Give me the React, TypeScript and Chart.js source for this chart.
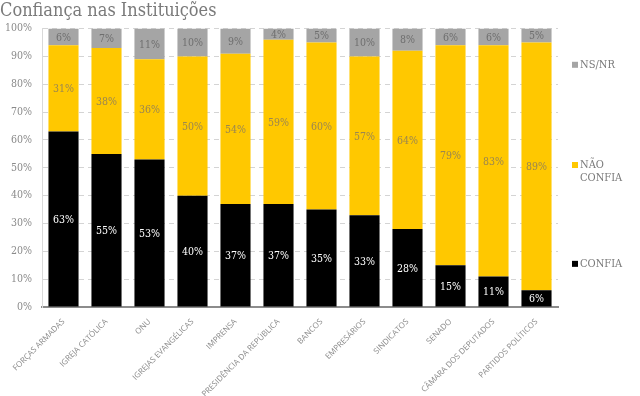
import React, { useEffect, useRef } from "react";
import { Chart, registerables } from "chart.js";

Chart.register(...registerables);

const categories = [
  "FORÇAS ARMADAS",
  "IGREJA CATÓLICA",
  "ONU",
  "IGREJAS EVANGÉLICAS",
  "IMPRENSA",
  "PRESIDÊNCIA DA REPÚBLICA",
  "BANCOS",
  "EMPRESÁRIOS",
  "SINDICATOS",
  "SENADO",
  "CÂMARA DOS DEPUTADOS",
  "PARTIDOS POLÍTICOS",
];
const confia = [63, 55, 53, 40, 37, 37, 35, 33, 28, 15, 11, 6];
const naoConfia = [31, 38, 36, 50, 54, 59, 60, 57, 64, 79, 83, 89];
const nsnr = [6, 7, 11, 10, 9, 4, 5, 10, 8, 6, 6, 5];
const yTicks = [0, 10, 20, 30, 40, 50, 60, 70, 80, 90, 100];

const TITLE_FONT = "'DejaVu Serif Condensed', 'DejaVu Serif', serif";

const labelColors = ["#ffffff", "#9a8650", "#6e6e6e"];

const dataLabelPlugin = {
  id: "dataLabels",
  afterDatasetsDraw(chart: any) {
    const ctx = chart.ctx;
    ctx.save();
    ctx.font = `10.5px ${TITLE_FONT}`;
    ctx.textAlign = "center";
    ctx.textBaseline = "middle";
    chart.data.datasets.forEach((ds: any, di: number) => {
      const meta = chart.getDatasetMeta(di);
      meta.data.forEach((el: any, i: number) => {
        const p = el.getProps(["x", "y", "base"], true);
        ctx.fillStyle = labelColors[di];
        ctx.fillText(ds.data[i] + "%", p.x, (p.y + p.base) / 2 + 1);
      });
    });
    ctx.restore();
  },
};

const legendPlugin = {
  id: "sideLegend",
  afterDraw(chart: any) {
    const ctx = chart.ctx;
    const area = chart.chartArea;
    const h = area.bottom - area.top;
    const x = area.right + 14;
    const items = [
      { lines: ["NS/NR"], color: "#a5a5a5", frac: 0.13 },
      { lines: ["NÃO", "CONFIA"], color: "#ffc800", frac: 0.49 },
      { lines: ["CONFIA"], color: "#000000", frac: 0.845 },
    ];
    ctx.save();
    ctx.font = `11px ${TITLE_FONT}`;
    ctx.textBaseline = "middle";
    ctx.textAlign = "left";
    items.forEach((it) => {
      const y = area.top + h * it.frac;
      ctx.fillStyle = it.color;
      ctx.fillRect(x, y - 3, 6, 6);
      ctx.fillStyle = "#7a7a7a";
      it.lines.forEach((ln, k) => ctx.fillText(ln, x + 8, y + k * 13));
    });
    ctx.restore();
  },
};

export default function App() {
  const ref = useRef<HTMLCanvasElement>(null);
  useEffect(() => {
    document.body.style.margin = "0";
    const chart = new Chart(ref.current!, {
      type: "bar",
      data: {
        labels: categories,
        datasets: [
          { label: "CONFIA", data: confia, backgroundColor: "#000000", barPercentage: 0.7, categoryPercentage: 1 },
          { label: "NÃO CONFIA", data: naoConfia, backgroundColor: "#ffc800", barPercentage: 0.7, categoryPercentage: 1 },
          { label: "NS/NR", data: nsnr, backgroundColor: "#a5a5a5", barPercentage: 0.7, categoryPercentage: 1 },
        ],
      },
      options: {
        animation: false,
        responsive: false,
        layout: { padding: { left: 0, right: 82, top: 0, bottom: 0 } },
        plugins: {
          legend: { display: false },
          tooltip: { enabled: false },
          title: {
            display: true,
            text: "Confiança nas Instituições",
            align: "start",
            color: "#7a7a7a",
            font: { family: TITLE_FONT, size: 18, weight: "normal" },
            padding: { top: 1, bottom: 6 },
          },
        },
        scales: {
          x: {
            stacked: true,
            grid: { display: false },
            border: { display: true, color: "#8c8c8c", width: 2 },
            afterFit: (axis: any) => {
              axis.paddingLeft = 0;
              axis.paddingRight = 0;
              axis.height = 89;
            },
            ticks: {
              color: "#8a8a8a",
              font: { family: "'Open Sans', sans-serif", size: 8 },
              minRotation: 45,
              maxRotation: 45,
              padding: 2,
            },
          },
          y: {
            stacked: true,
            min: 0,
            max: 100,
            afterBuildTicks: (axis: any) => {
              axis.ticks = yTicks.map((v) => ({ value: v }));
            },
            afterFit: (axis: any) => {
              axis.width = 42;
            },
            grid: { color: "#d4d4d4", drawTicks: false },
            border: { display: true, color: "#d9d9d9", dash: [5, 4] },
            ticks: {
              color: "#8a8a8a",
              font: { family: TITLE_FONT, size: 10.5 },
              padding: 10,
              callback: (v: any) => v + "%",
            },
          },
        },
      },
      plugins: [dataLabelPlugin, legendPlugin],
    });
    return () => chart.destroy();
  }, []);
  return (
    <div style={{ position: "fixed", left: 0, top: 0, width: 640, height: 396 }}>
      <canvas ref={ref} width={640} height={396} />
    </div>
  );
}
